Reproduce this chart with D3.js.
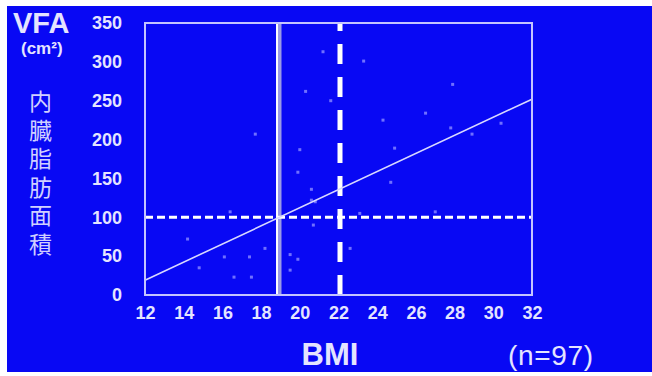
<!DOCTYPE html>
<html>
<head>
<meta charset="utf-8">
<script src="https://cdn.jsdelivr.net/npm/d3@7"></script>
<style>
  html, body { margin: 0; padding: 0; background: #ffffff; }
  svg { display: block; }
</style>
</head>
<body>
<div id="vfa-chart"></div>
<script>
// BMI / VFA values (visible dots only)
const bmiValues = [21.2, 20.3, 21.6, 17.7, 20.0, 23.3, 27.9, 26.5, 28.9, 24.9, 24.3,
  19.9, 20.6, 20.7, 18.2, 19.5, 19.9, 19.5, 14.8, 16.1, 17.4, 16.6, 17.5, 14.2,
  16.4, 22.6, 27.0, 24.7, 20.8, 20.6, 23.1, 30.4, 27.8];
const vfaValues = [313, 262, 250, 207, 187, 301, 271, 234, 207, 189, 225,
  158, 122, 90, 60, 52, 46, 32, 35, 49, 49, 23, 23, 72,
  107, 60, 107, 145, 120, 136, 105, 221, 215];

// regression line end points
const fitBmi = [12, 32];
const fitVfa = [19, 252];

// reference lines
const bmiCut = 18.9;
const bmiCut2 = 22;
const vfaCut = 100;

const xTicks = [12, 14, 16, 18, 20, 22, 24, 26, 28, 30, 32];
const yTicks = [0, 50, 100, 150, 200, 250, 300, 350];
const yTitle = '内臓脂肪面積';

const drawVfaChart = () => {
  const totalWidth = 652;
  const totalHeight = 376;
  const margin = { top: 23, right: 120, bottom: 81, left: 145 };
  const width = totalWidth - margin.left - margin.right;
  const height = totalHeight - margin.top - margin.bottom;

  const blue = '#0808f4';
  const frameColor = '#c4c4ff';
  const textColor = '#e4e4ff';

  const xScale = d3.scaleLinear().domain([12, 32]).range([0, width]);
  const yScale = d3.scaleLinear().domain([0, 350]).range([height, 0]);

  const root = d3
    .select('#vfa-chart')
    .append('svg')
    .attr('width', totalWidth)
    .attr('height', totalHeight);

  // blue panel (white strip left / top / bottom like the photo)
  root
    .append('rect')
    .attr('x', 7)
    .attr('y', 6)
    .attr('width', totalWidth - 7)
    .attr('height', 366)
    .attr('fill', blue);

  const svg = root
    .append('g')
    .attr('transform', `translate(${margin.left}, ${margin.top})`);

  // Render scatter points (faint in the photo)
  const points = bmiValues.map((b, i) => ({ bmi: b, vfa: vfaValues[i] }));
  svg
    .selectAll('.dot')
    .data(points)
    .join('rect')
    .attr('class', 'dot')
    .attr('x', (d) => xScale(d.bmi) - 1.5)
    .attr('y', (d) => yScale(d.vfa) - 1.5)
    .attr('width', 3)
    .attr('height', 3)
    .attr('fill', '#7070ff');

  // Solid vertical line (grey band + white edge)
  svg
    .append('line')
    .attr('x1', xScale(bmiCut) + 1)
    .attr('x2', xScale(bmiCut) + 1)
    .attr('y1', 0)
    .attr('y2', height)
    .attr('stroke', '#9a9ae6')
    .attr('stroke-width', 4);
  svg
    .append('line')
    .attr('x1', xScale(bmiCut) - 1.5)
    .attr('x2', xScale(bmiCut) - 1.5)
    .attr('y1', 0)
    .attr('y2', height)
    .attr('stroke', '#ffffff')
    .attr('stroke-width', 2);

  // Dashed vertical line at BMI 22
  svg
    .append('line')
    .attr('x1', xScale(bmiCut2) + 1.5)
    .attr('x2', xScale(bmiCut2) + 1.5)
    .attr('y1', yScale(0))
    .attr('y2', yScale(350))
    .attr('stroke', '#ffffff')
    .attr('stroke-width', 5)
    .attr('stroke-dasharray', '20,13');

  // Dashed horizontal line at VFA 100
  svg
    .append('line')
    .attr('x1', 0)
    .attr('x2', width)
    .attr('y1', yScale(vfaCut))
    .attr('y2', yScale(vfaCut))
    .attr('stroke', '#ffffff')
    .attr('stroke-width', 3)
    .attr('stroke-dasharray', '8,4');

  // Regression line
  svg
    .append('line')
    .attr('x1', xScale(fitBmi[0]))
    .attr('y1', yScale(fitVfa[0]))
    .attr('x2', xScale(fitBmi[1]))
    .attr('y2', yScale(fitVfa[1]))
    .attr('stroke', '#d8d8ff')
    .attr('stroke-width', 1.6);

  // Frame
  svg
    .append('rect')
    .attr('x', 0)
    .attr('y', 0)
    .attr('width', width)
    .attr('height', height)
    .attr('fill', 'none')
    .attr('stroke', frameColor)
    .attr('stroke-width', 2);

  // Render y axis labels
  const yAxis = svg
    .append('g')
    .attr('transform', 'translate(-23, 0)')
    .call(d3.axisLeft(yScale).tickValues(yTicks).tickSize(0).tickPadding(0));
  yAxis.select('.domain').remove();
  yAxis
    .selectAll('text')
    .attr('fill', textColor)
    .attr('font-family', 'Liberation Sans, Arial, sans-serif')
    .attr('font-weight', 'bold')
    .attr('font-size', 18);

  // Render x axis labels
  const xAxis = svg
    .append('g')
    .attr('transform', `translate(0, ${height + 11})`)
    .call(d3.axisBottom(xScale).tickValues(xTicks).tickSize(0).tickPadding(0));
  xAxis.select('.domain').remove();
  xAxis
    .selectAll('text')
    .attr('fill', textColor)
    .attr('font-family', 'Liberation Sans, Arial, sans-serif')
    .attr('font-weight', 'bold')
    .attr('font-size', 18);

  // Titles
  root
    .append('text')
    .attr('x', 13)
    .attr('y', 33)
    .attr('fill', textColor)
    .attr('font-family', 'Liberation Sans, Arial, sans-serif')
    .attr('font-weight', 'bold')
    .attr('font-size', 29)
    .text('VFA');

  root
    .append('text')
    .attr('x', 21)
    .attr('y', 54)
    .attr('fill', textColor)
    .attr('font-family', 'Liberation Sans, Arial, sans-serif')
    .attr('font-weight', 'bold')
    .attr('font-size', 17)
    .text('(cm²)');

  // vertical Japanese title, one text element
  root
    .append('text')
    .attr('x', 40.5)
    .attr('y', 90)
    .attr('writing-mode', 'vertical-rl')
    .attr('fill', '#d0d0ff')
    .attr('font-family', 'Noto Sans CJK JP, sans-serif')
    .attr('font-size', 23)
    .attr('letter-spacing', 5.5)
    .text(yTitle);

  root
    .append('text')
    .attr('x', 330)
    .attr('y', 365)
    .attr('text-anchor', 'middle')
    .attr('fill', textColor)
    .attr('font-family', 'Liberation Sans, Arial, sans-serif')
    .attr('font-weight', 'bold')
    .attr('font-size', 31)
    .text('BMI');

  root
    .append('text')
    .attr('x', 508)
    .attr('y', 365)
    .attr('fill', textColor)
    .attr('font-family', 'Liberation Sans, Arial, sans-serif')
    .attr('font-size', 28)
    .attr('textLength', 85)
    .text('(n=97)');
};

drawVfaChart();
</script>
</body>
</html>
